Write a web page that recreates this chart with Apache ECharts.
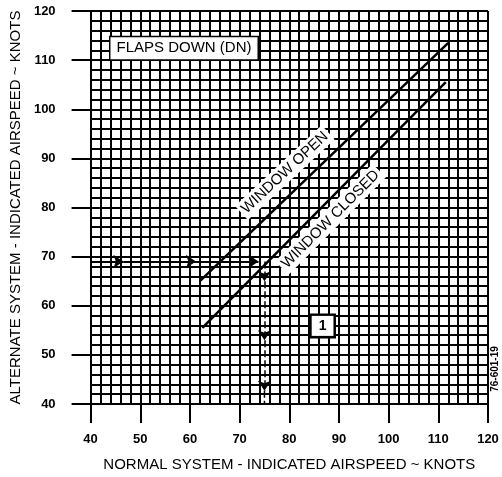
<!DOCTYPE html>
<html><head><meta charset="utf-8">
<script src="https://cdn.jsdelivr.net/npm/echarts@6/dist/echarts.min.js"></script>
<style>html,body{margin:0;padding:0;background:#fff}#c{width:502px;height:477px}</style>
</head><body><div id="c"></div>
<script>
// ---- data ----
const xTickLabels = ['40','50','60','70','80','90','100','110','120'];
const yTickLabels = ['40','50','60','70','80','90','100','110','120'];
const windowOpen = [[62, 65], [112, 113.5]];
const windowClosed = [[62.5, 55.5], [111.5, 105.5]];
// example reading path: arrow tips along the path
const exampleHorizontal = [[40, 69], [46.6, 69], [61.2, 69], [73.8, 69]];
const exampleVertical = [[75, 69], [75, 65], [75, 53], [75, 42.7]];
const exampleVerticalEnd = [[75, 42.7], [75, 40]];

const FONT = 'Liberation Sans, Arial, Helvetica, sans-serif';

function segments(pts) {
  const out = [];
  for (let i = 0; i < pts.length - 1; i++) out.push({ coords: [pts[i], pts[i + 1]] });
  return out;
}

const axisCommon = {
  type: 'value', min: 40, max: 120, interval: 10,
  axisLine: { show: true, lineStyle: { color: '#000', width: 2 } },
  axisTick: { show: true, length: 19, lineStyle: { color: '#000', width: 2 } },
  splitLine: { show: true, lineStyle: { color: '#000', width: 2 } },
  minorTick: { show: false, splitNumber: 5 },
  minorSplitLine: { show: true, lineStyle: { color: '#000', width: 2 } },
  nameLocation: 'middle',
  nameTextStyle: { fontSize: 15, color: '#000', fontFamily: FONT }
};

const chart = echarts.init(document.getElementById('c'), null, { renderer: 'canvas' });
chart.setOption({
  animation: false,
  backgroundColor: '#fff',
  grid: { left: 89, right: 14, top: 11, bottom: 73, containLabel: false },
  xAxis: Object.assign({}, axisCommon, {
    name: 'NORMAL SYSTEM - INDICATED AIRSPEED ~ KNOTS',
    nameGap: 53,
    axisLabel: {
      margin: 29, color: '#000', fontSize: 13, fontWeight: 'bold', fontFamily: FONT,
      showMinLabel: true, showMaxLabel: true,
      formatter: v => xTickLabels[Math.round((v - 40) / 10)]
    }
  }),
  yAxis: Object.assign({}, axisCommon, {
    name: 'ALTERNATE SYSTEM - INDICATED AIRSPEED ~ KNOTS',
    nameGap: 59,
    axisLabel: {
      margin: 35, color: '#000', fontSize: 13, fontWeight: 'bold', fontFamily: FONT,
      showMinLabel: true, showMaxLabel: true,
      formatter: v => yTickLabels[Math.round((v - 40) / 10)]
    }
  }),
  series: [
    {
      name: 'Window open', type: 'line', data: windowOpen, symbol: 'none',
      lineStyle: { color: '#000', width: 2.5 }, z: 3
    },
    {
      name: 'Window closed', type: 'line', data: windowClosed, symbol: 'none',
      lineStyle: { color: '#000', width: 2.5 }, z: 3
    },
    {
      name: 'Example horizontal', type: 'lines', coordinateSystem: 'cartesian2d',
      data: segments(exampleHorizontal), symbol: ['none', 'arrow'], symbolSize: 10,
      lineStyle: { color: '#000', width: 2, opacity: 1 }, z: 4
    },
    {
      name: 'Example vertical', type: 'lines', coordinateSystem: 'cartesian2d',
      data: segments(exampleVertical), symbol: ['none', 'arrow'], symbolSize: 10,
      lineStyle: { color: '#000', width: 1.5, type: [7, 3], opacity: 1 }, z: 4
    },
    {
      name: 'Example vertical end', type: 'line', data: exampleVerticalEnd, symbol: 'none',
      lineStyle: { color: '#000', width: 1.5, type: [7, 3] }, z: 4
    },
    {
      name: 'Annotations', type: 'scatter', symbolSize: 1,
      itemStyle: { color: 'rgba(255,255,255,0)', opacity: 1 }, z: 5, silent: true,
      label: { show: true, position: 'inside', color: '#000', opacity: 1,
               fontFamily: FONT, fontSize: 15 },
      data: [
        { value: [58.8, 112.4], label: { formatter: 'FLAPS DOWN (DN)', backgroundColor: '#fff',
            borderColor: '#000', borderWidth: 1.5, padding: [4, 6, 3, 6] } },
        { value: [79.1, 87.1], label: { formatter: 'WINDOW OPEN', rotate: 43,
            backgroundColor: '#fff', padding: [2, 3] } },
        { value: [88.3, 77.6], label: { formatter: 'WINDOW CLOSED', rotate: 45,
            backgroundColor: '#fff', padding: [2, 3] } },
        { value: [86.7, 55.9], label: { formatter: '1', fontWeight: 'bold', fontSize: 14,
            backgroundColor: '#fff', borderColor: '#000', borderWidth: 2.5, padding: [3, 7] } }
      ]
    }
  ],
  graphic: [
    { type: 'text', x: 495, y: 369, rotation: Math.PI / 2, z: 10,
      style: { text: '76-601-19', font: 'bold 10px ' + FONT, fill: '#000',
               align: 'center', verticalAlign: 'middle' } }
  ]
});
</script></body></html>
